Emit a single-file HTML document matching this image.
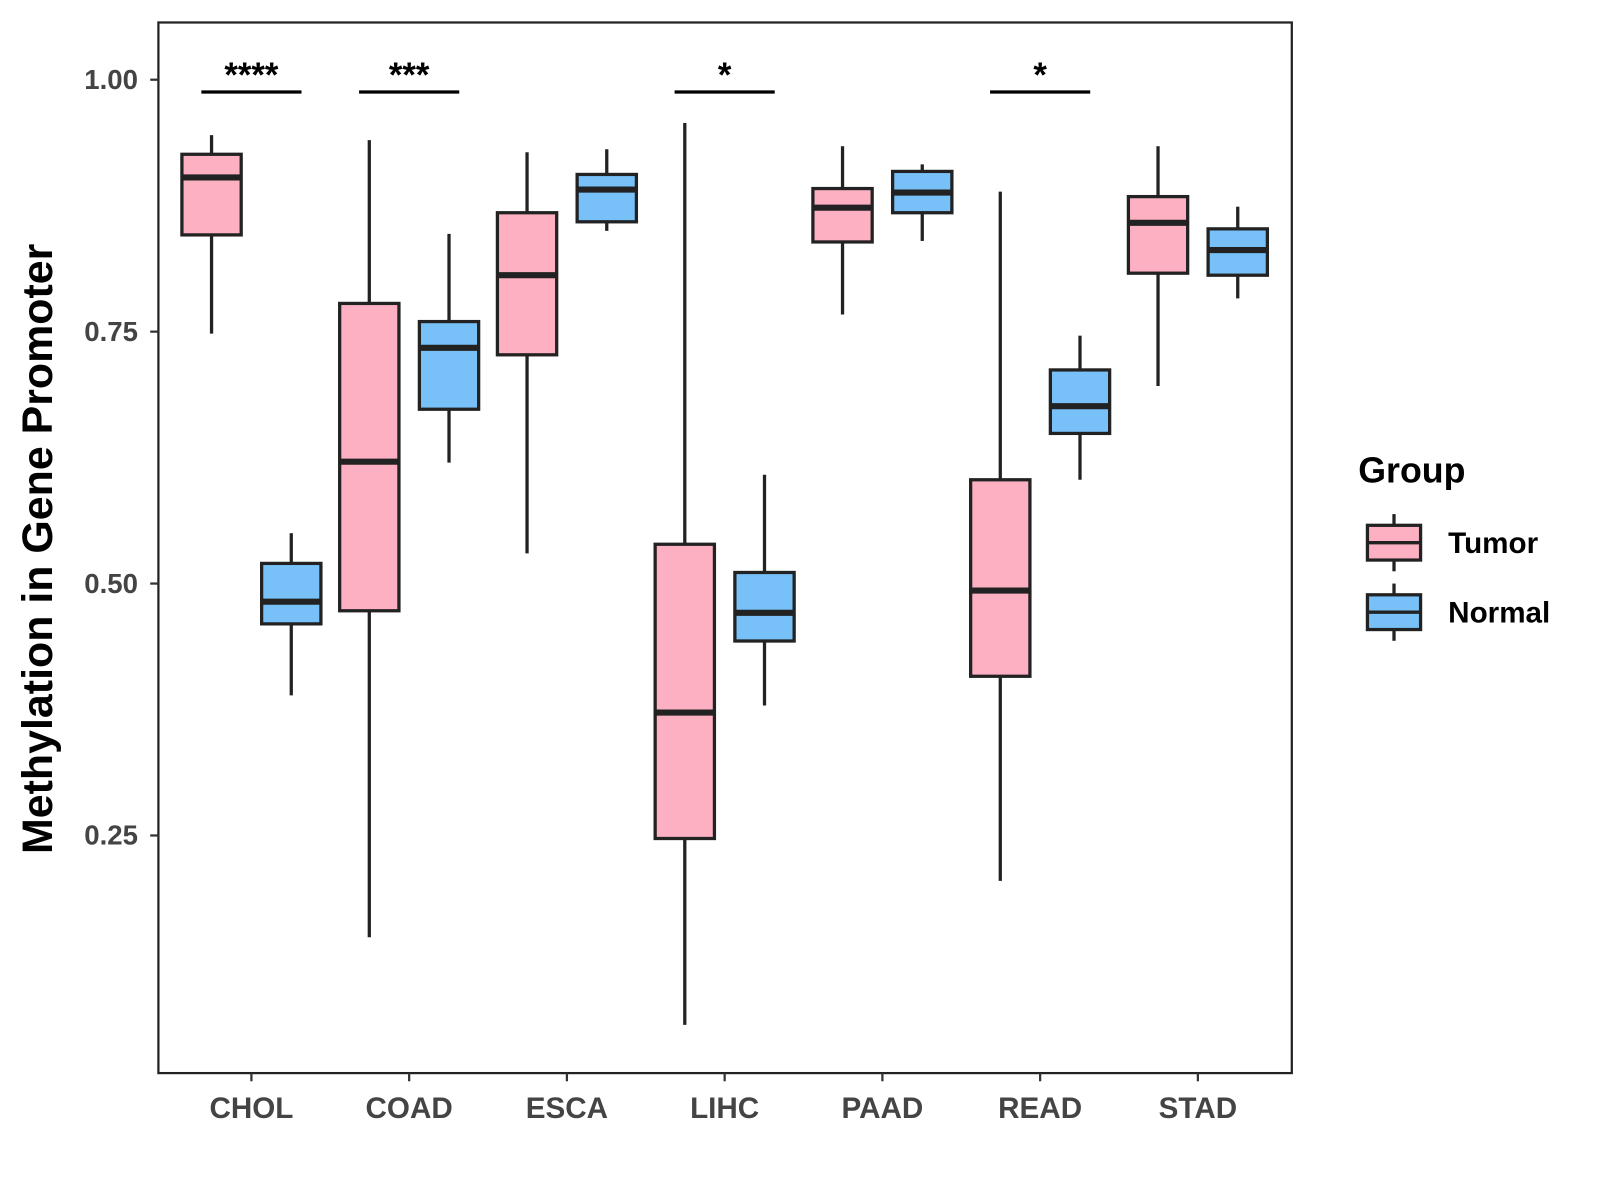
<!DOCTYPE html>
<html><head><meta charset="utf-8"><style>
body{margin:0;background:#fff;}
svg{display:block;font-family:"Liberation Sans",Arial,sans-serif;}
</style></head><body>
<svg id="chart" width="1600" height="1200" viewBox="0 0 1600 1200" xmlns="http://www.w3.org/2000/svg">
<rect x="0" y="0" width="1600" height="1200" fill="#fff"/>
<g transform="scale(1.022)"><g id="plot"></g></g>
</svg>
<script>
const categories = ["CHOL","COAD","ESCA","LIHC","PAAD","READ","STAD"];
// [low, q1, median, q3, high]
const tumor = [
 [0.748,0.846,0.903,0.926,0.945],
 [0.149,0.473,0.621,0.778,0.940],
 [0.530,0.727,0.806,0.868,0.928],
 [0.062,0.247,0.372,0.539,0.957],
 [0.767,0.839,0.873,0.892,0.934],
 [0.205,0.408,0.493,0.603,0.889],
 [0.696,0.808,0.858,0.884,0.934]
];
const normal = [
 [0.389,0.460,0.482,0.520,0.550],
 [0.620,0.673,0.734,0.760,0.847],
 [0.850,0.859,0.891,0.906,0.931],
 [0.379,0.443,0.471,0.511,0.608],
 [0.840,0.868,0.888,0.909,0.916],
 [0.603,0.649,0.676,0.712,0.746],
 [0.783,0.806,0.831,0.852,0.874]
];
const sigLabels = ["****","***","","*","","*",""];
const yTicks = [0.25,0.50,0.75,1.00];
const yTickLabels = ["0.25","0.50","0.75","1.00"];

const NS="http://www.w3.org/2000/svg";
const g=document.getElementById('plot');
const PL=155,PR=1264,PT=22,PB=1050;
const y=v=>78+(1-v)*986;
const x=i=>246+i*154.35;
function el(tag,attrs,parent){const e=document.createElementNS(NS,tag);for(const k in attrs)e.setAttribute(k,attrs[k]);(parent||g).appendChild(e);return e;}

const frame=el('rect',{x:PL,y:PT,width:PR-PL,height:PB-PT,fill:'none',stroke:'#222','stroke-width':2.2});



yTicks.forEach((t,i)=>{
 const l=el('line',{x1:PL-8,x2:PL,y1:y(t),y2:y(t),stroke:'#333','stroke-width':2.2});
 
 
 const tx=el('text',{x:PL-20,y:y(t)+9,'text-anchor':'end','font-size':27,'font-weight':'bold',fill:'#444'});
 tx.textContent=yTickLabels[i];
 
 
});
categories.forEach((c,i)=>{
 const l=el('line',{x1:x(i),x2:x(i),y1:PB,y2:PB+8,stroke:'#333','stroke-width':2.2});
 
 
 const tx=el('text',{x:x(i),y:PB+44,'text-anchor':'middle','font-size':29,'font-weight':'bold',fill:'#444'});
 tx.textContent=c;
 
 
});

function box(cx,d,fill,name){
 const grp=el('g',{});
 
 
 const w=58;
 el('line',{x1:cx,x2:cx,y1:y(d[4]),y2:y(d[3]),stroke:'#222','stroke-width':3.2},grp);
 el('line',{x1:cx,x2:cx,y1:y(d[1]),y2:y(d[0]),stroke:'#222','stroke-width':3.2},grp);
 el('rect',{x:cx-w/2,y:y(d[3]),width:w,height:y(d[1])-y(d[3]),fill:fill,stroke:'#222','stroke-width':3.2},grp);
 el('line',{x1:cx-w/2,x2:cx+w/2,y1:y(d[2]),y2:y(d[2]),stroke:'#222','stroke-width':6},grp);
}
categories.forEach((c,i)=>{
 box(x(i)-39,tumor[i],'#FCB0C2','box-tumor-'+c.toLowerCase());
 box(x(i)+39,normal[i],'#77C1F8','box-normal-'+c.toLowerCase());
 if(sigLabels[i]){
  const l=el('line',{x1:x(i)-49,x2:x(i)+49,y1:90,y2:90,stroke:'#000','stroke-width':3.2});
  
  
  const t=el('text',{x:x(i),y:85,'text-anchor':'middle','font-size':34,'font-weight':'bold',fill:'#000'});
  t.textContent=sigLabels[i];
  
  
 }
});

const yt=el('text',{x:0,y:0,transform:'translate(51,537) rotate(-90)','text-anchor':'middle','font-size':42,'font-weight':'bold',fill:'#000'});
yt.textContent='Methylation in Gene Promoter';



const lt=el('text',{x:1329,y:472,'font-size':35,'font-weight':'bold',fill:'#000'});
lt.textContent='Group';


[['Tumor','#FCB0C2',531],['Normal','#77C1F8',599]].forEach(([n,f,cy])=>{
 const lg=el('g',{});
 
 
 el('line',{x1:1364,x2:1364,y1:cy-28,y2:cy+28,stroke:'#222','stroke-width':3.2},lg);
 el('rect',{x:1338,y:cy-17,width:52,height:34,fill:f,stroke:'#222','stroke-width':3.2},lg);
 el('line',{x1:1338,x2:1390,y1:cy,y2:cy,stroke:'#222','stroke-width':3.2},lg);
 const t=el('text',{x:1417,y:cy+10,'font-size':29,'font-weight':'bold',fill:'#000'},lg);
 t.textContent=n;
});
</script>
</body></html>
